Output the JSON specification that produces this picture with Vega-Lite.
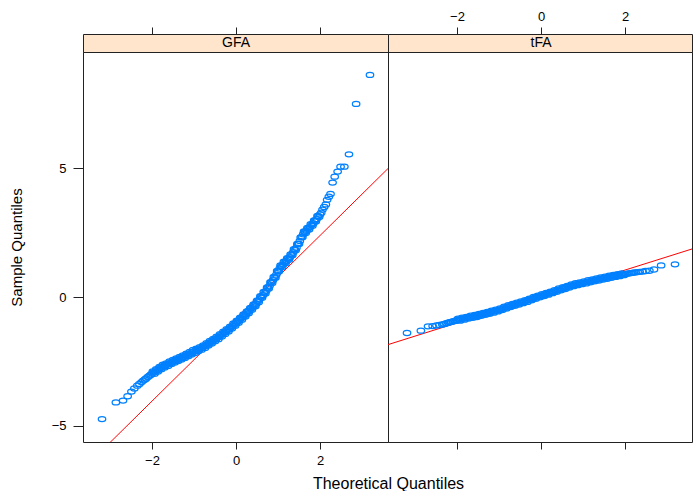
{
 "$schema": "https://vega.github.io/schema/vega-lite/v6.json",
 "autosize": "none",
 "padding": {"left": 83, "top": 34, "right": 610, "bottom": 457},
 "bounds": "flush",
 "spacing": 0,
 "columns": 2,
 "config": {
  "font": "Liberation Sans",
  "view": {"stroke": "#222", "strokeWidth": 1},
  "axis": {"domain": false, "grid": false, "tickColor": "#222", "labelColor": "#000", "titleColor": "#000", "labelFont": "Liberation Sans", "titleFont": "Liberation Sans", "titleFontWeight": "normal", "labelFontSize": 13}
 },
 "datasets": {
  "GFA": [
   {"x":-3.19,"y":-4.75},{"x":-2.86,"y":-4.10},{"x":-2.69,"y":-4.03},{"x":-2.58,"y":-3.86},{"x":-2.49,"y":-3.68},{"x":-2.42,"y":-3.56},{"x":-2.35,"y":-3.45},{"x":-2.30,"y":-3.38},{"x":-2.25,"y":-3.31},{"x":-2.21,"y":-3.25},{"x":-2.17,"y":-3.21},{"x":-2.14,"y":-3.17},{"x":-2.10,"y":-3.11},{"x":-2.06,"y":-3.06},{"x":-2.03,"y":-3.02},{"x":-2.00,"y":-2.98},
   {"x":-1.96,"y":-2.93},{"x":-1.92,"y":-2.91},{"x":-1.88,"y":-2.84},{"x":-1.84,"y":-2.82},{"x":-1.80,"y":-2.75},{"x":-1.76,"y":-2.73},{"x":-1.72,"y":-2.67},{"x":-1.68,"y":-2.66},{"x":-1.64,"y":-2.63},{"x":-1.60,"y":-2.58},
   {"x":-1.56,"y":-2.57},{"x":-1.52,"y":-2.52},{"x":-1.48,"y":-2.51},{"x":-1.44,"y":-2.46},{"x":-1.40,"y":-2.45},{"x":-1.36,"y":-2.40},{"x":-1.32,"y":-2.39},{"x":-1.28,"y":-2.34},{"x":-1.24,"y":-2.33},{"x":-1.20,"y":-2.27},{"x":-1.16,"y":-2.26},{"x":-1.12,"y":-2.21},{"x":-1.08,"y":-2.20},{"x":-1.04,"y":-2.14},{"x":-1.00,"y":-2.12},
   {"x":-0.96,"y":-2.10},{"x":-0.92,"y":-2.05},{"x":-0.88,"y":-2.04},{"x":-0.84,"y":-1.99},{"x":-0.80,"y":-1.98},{"x":-0.76,"y":-1.92},{"x":-0.72,"y":-1.90},{"x":-0.68,"y":-1.83},{"x":-0.64,"y":-1.81},{"x":-0.60,"y":-1.75},{"x":-0.56,"y":-1.73},{"x":-0.52,"y":-1.66},{"x":-0.48,"y":-1.64},
   {"x":-0.44,"y":-1.58},{"x":-0.40,"y":-1.55},{"x":-0.36,"y":-1.48},{"x":-0.32,"y":-1.45},{"x":-0.28,"y":-1.38},{"x":-0.24,"y":-1.35},{"x":-0.20,"y":-1.28},{"x":-0.16,"y":-1.25},{"x":-0.12,"y":-1.18},{"x":-0.08,"y":-1.14},{"x":-0.04,"y":-1.06},{"x":0.00,"y":-1.03},
   {"x":0.04,"y":-0.95},{"x":0.08,"y":-0.91},{"x":0.12,"y":-0.83},{"x":0.16,"y":-0.79},{"x":0.20,"y":-0.71},{"x":0.24,"y":-0.67},{"x":0.28,"y":-0.58},{"x":0.32,"y":-0.53},{"x":0.36,"y":-0.45},{"x":0.40,"y":-0.40},{"x":0.44,"y":-0.32},
   {"x":0.48,"y":-0.26},{"x":0.52,"y":-0.16},{"x":0.56,"y":-0.09},{"x":0.60,"y":0.01},{"x":0.64,"y":0.07},{"x":0.68,"y":0.18},{"x":0.72,"y":0.24},{"x":0.76,"y":0.36},{"x":0.80,"y":0.44},{"x":0.84,"y":0.57},{"x":0.88,"y":0.65},{"x":0.92,"y":0.77},
   {"x":0.96,"y":0.87},{"x":1.00,"y":1.01},{"x":1.04,"y":1.11},{"x":1.08,"y":1.21},{"x":1.12,"y":1.26},{"x":1.16,"y":1.35},{"x":1.20,"y":1.40},{"x":1.24,"y":1.49},{"x":1.28,"y":1.54},
   {"x":1.32,"y":1.65},{"x":1.36,"y":1.73},{"x":1.40,"y":1.85},{"x":1.44,"y":1.92},{"x":1.48,"y":2.07},{"x":1.52,"y":2.18},{"x":1.56,"y":2.33},{"x":1.60,"y":2.44},
   {"x":1.64,"y":2.53},{"x":1.68,"y":2.58},{"x":1.72,"y":2.67},{"x":1.76,"y":2.72},{"x":1.80,"y":2.81},{"x":1.84,"y":2.86},{"x":1.88,"y":2.97},{"x":1.92,"y":3.03},{"x":1.96,"y":3.14},{"x":2.00,"y":3.21},
   {"x":2.03,"y":3.28},{"x":2.06,"y":3.40},{"x":2.10,"y":3.50},{"x":2.14,"y":3.60},{"x":2.17,"y":3.78},{"x":2.21,"y":3.90},{"x":2.25,"y":4.01},{"x":2.30,"y":4.45},{"x":2.35,"y":4.68},{"x":2.42,"y":4.88},{"x":2.49,"y":5.07},{"x":2.58,"y":5.07},{"x":2.69,"y":5.55},{"x":2.86,"y":7.51},{"x":3.19,"y":8.64},
   {"x":-1.98,"y":-2.89},{"x":-1.94,"y":-2.99},{"x":-1.90,"y":-2.81},{"x":-1.86,"y":-2.90},{"x":-1.82,"y":-2.72},{"x":-1.78,"y":-2.81},{"x":-1.74,"y":-2.63},{"x":-1.70,"y":-2.74},{"x":-1.66,"y":-2.58},{"x":-1.62,"y":-2.68},
   {"x":-1.58,"y":-2.51},{"x":-1.54,"y":-2.61},{"x":-1.50,"y":-2.45},{"x":-1.46,"y":-2.55},{"x":-1.42,"y":-2.39},{"x":-1.38,"y":-2.49},{"x":-1.34,"y":-2.33},{"x":-1.30,"y":-2.43},{"x":-1.26,"y":-2.27},{"x":-1.22,"y":-2.37},
   {"x":-1.18,"y":-2.20},{"x":-1.14,"y":-2.30},{"x":-1.10,"y":-2.14},{"x":-1.06,"y":-2.24},{"x":-1.02,"y":-2.06},{"x":-0.98,"y":-2.18},{"x":-0.94,"y":-2.01},{"x":-0.90,"y":-2.11},{"x":-0.86,"y":-1.95},{"x":-0.82,"y":-2.05},
   {"x":-0.78,"y":-1.88},{"x":-0.74,"y":-1.98},{"x":-0.70,"y":-1.80},{"x":-0.66,"y":-1.89},{"x":-0.62,"y":-1.71},{"x":-0.58,"y":-1.81},{"x":-0.54,"y":-1.63},{"x":-0.50,"y":-1.72},{"x":-0.46,"y":-1.54},{"x":-0.42,"y":-1.64},
   {"x":-0.38,"y":-1.45},{"x":-0.34,"y":-1.54},{"x":-0.30,"y":-1.35},{"x":-0.26,"y":-1.44},{"x":-0.22,"y":-1.25},{"x":-0.18,"y":-1.34},{"x":-0.14,"y":-1.15},{"x":-0.10,"y":-1.23},{"x":-0.06,"y":-1.03},{"x":-0.02,"y":-1.12},
   {"x":0.02,"y":-0.92},{"x":0.06,"y":-1.00},{"x":0.10,"y":-0.80},{"x":0.14,"y":-0.88},{"x":0.18,"y":-0.68},{"x":0.22,"y":-0.76},{"x":0.26,"y":-0.56},{"x":0.30,"y":-0.63},{"x":0.34,"y":-0.42},{"x":0.38,"y":-0.50},
   {"x":0.42,"y":-0.29},{"x":0.46,"y":-0.36},{"x":0.50,"y":-0.14},{"x":0.54,"y":-0.20},{"x":0.58,"y":0.03},{"x":0.62,"y":-0.03},{"x":0.66,"y":0.20},{"x":0.70,"y":0.14},{"x":0.74,"y":0.37},{"x":0.78,"y":0.33},
   {"x":0.82,"y":0.58},{"x":0.86,"y":0.54},{"x":0.90,"y":0.78},{"x":0.94,"y":0.75},{"x":0.98,"y":1.01},{"x":1.02,"y":0.99},{"x":1.06,"y":1.23},{"x":1.10,"y":1.17},{"x":1.14,"y":1.37},{"x":1.18,"y":1.31},
   {"x":1.22,"y":1.51},{"x":1.26,"y":1.45},{"x":1.30,"y":1.66},{"x":1.34,"y":1.62},{"x":1.38,"y":1.86},{"x":1.42,"y":1.82},{"x":1.46,"y":2.06},{"x":1.50,"y":2.06},{"x":1.54,"y":2.32},{"x":1.58,"y":2.32},
   {"x":1.62,"y":2.55},{"x":1.66,"y":2.49},{"x":1.70,"y":2.69},{"x":1.74,"y":2.63},{"x":1.78,"y":2.83},{"x":1.82,"y":2.77},{"x":1.86,"y":2.98},{"x":1.90,"y":2.94},{"x":1.94,"y":3.15},{"x":1.98,"y":3.11}
  ],
  "tFA": [
   {"x":-3.19,"y":-1.40},{"x":-2.86,"y":-1.31},{"x":-2.69,"y":-1.14},{"x":-2.58,"y":-1.13},{"x":-2.49,"y":-1.11},{"x":-2.42,"y":-1.09},{"x":-2.35,"y":-1.07},{"x":-2.30,"y":-1.05},{"x":-2.25,"y":-1.02},{"x":-2.21,"y":-1.00},{"x":-2.17,"y":-0.98},{"x":-2.14,"y":-0.97},{"x":-2.10,"y":-0.95},{"x":-2.06,"y":-0.93},{"x":-2.03,"y":-0.92},{"x":-2.00,"y":-0.90},
   {"x":-1.95,"y":-0.88},{"x":-1.90,"y":-0.86},{"x":-1.85,"y":-0.84},{"x":-1.80,"y":-0.83},{"x":-1.75,"y":-0.80},{"x":-1.70,"y":-0.79},{"x":-1.65,"y":-0.77},{"x":-1.60,"y":-0.76},{"x":-1.55,"y":-0.74},{"x":-1.50,"y":-0.72},{"x":-1.45,"y":-0.70},{"x":-1.40,"y":-0.67},{"x":-1.35,"y":-0.66},{"x":-1.30,"y":-0.63},{"x":-1.25,"y":-0.62},{"x":-1.20,"y":-0.59},{"x":-1.15,"y":-0.57},{"x":-1.10,"y":-0.55},{"x":-1.05,"y":-0.53},{"x":-1.00,"y":-0.50},
   {"x":-0.95,"y":-0.48},{"x":-0.90,"y":-0.44},{"x":-0.85,"y":-0.42},{"x":-0.80,"y":-0.38},{"x":-0.75,"y":-0.36},{"x":-0.70,"y":-0.33},{"x":-0.65,"y":-0.31},{"x":-0.60,"y":-0.28},{"x":-0.55,"y":-0.26},{"x":-0.50,"y":-0.23},{"x":-0.45,"y":-0.21},{"x":-0.40,"y":-0.18},{"x":-0.35,"y":-0.15},{"x":-0.30,"y":-0.13},{"x":-0.25,"y":-0.09},{"x":-0.20,"y":-0.07},{"x":-0.15,"y":-0.03},{"x":-0.10,"y":-0.01},{"x":-0.05,"y":0.02},
   {"x":0.00,"y":0.05},{"x":0.05,"y":0.07},{"x":0.10,"y":0.10},{"x":0.15,"y":0.12},{"x":0.20,"y":0.15},{"x":0.25,"y":0.18},{"x":0.30,"y":0.21},{"x":0.35,"y":0.23},{"x":0.40,"y":0.27},{"x":0.45,"y":0.29},{"x":0.50,"y":0.32},{"x":0.55,"y":0.35},{"x":0.60,"y":0.37},{"x":0.65,"y":0.40},{"x":0.70,"y":0.43},{"x":0.75,"y":0.45},{"x":0.80,"y":0.48},{"x":0.85,"y":0.50},{"x":0.90,"y":0.51},{"x":0.95,"y":0.54},
   {"x":1.00,"y":0.55},{"x":1.05,"y":0.57},{"x":1.10,"y":0.59},{"x":1.15,"y":0.61},{"x":1.20,"y":0.62},{"x":1.25,"y":0.65},{"x":1.30,"y":0.66},{"x":1.35,"y":0.68},{"x":1.40,"y":0.70},{"x":1.45,"y":0.72},{"x":1.50,"y":0.73},{"x":1.55,"y":0.75},{"x":1.60,"y":0.77},{"x":1.65,"y":0.79},{"x":1.70,"y":0.81},{"x":1.75,"y":0.82},{"x":1.80,"y":0.84},{"x":1.85,"y":0.85},{"x":1.90,"y":0.87},{"x":1.95,"y":0.88},
   {"x":2.00,"y":0.89},{"x":2.03,"y":0.90},{"x":2.06,"y":0.91},{"x":2.10,"y":0.92},{"x":2.14,"y":0.93},{"x":2.17,"y":0.94},{"x":2.21,"y":0.95},{"x":2.25,"y":0.96},{"x":2.30,"y":0.97},{"x":2.35,"y":0.98},{"x":2.42,"y":0.99},{"x":2.49,"y":1.01},{"x":2.58,"y":1.02},{"x":2.69,"y":1.07},{"x":2.86,"y":1.23},{"x":3.19,"y":1.27},
   {"x":-1.975,"y":-0.84},{"x":-1.925,"y":-0.92},{"x":-1.875,"y":-0.80},{"x":-1.825,"y":-0.88},{"x":-1.775,"y":-0.77},{"x":-1.725,"y":-0.84},{"x":-1.675,"y":-0.73},{"x":-1.625,"y":-0.81},{"x":-1.575,"y":-0.70},{"x":-1.525,"y":-0.78},
   {"x":-1.475,"y":-0.66},{"x":-1.425,"y":-0.73},{"x":-1.375,"y":-0.62},{"x":-1.325,"y":-0.69},{"x":-1.275,"y":-0.58},{"x":-1.225,"y":-0.65},{"x":-1.175,"y":-0.53},{"x":-1.125,"y":-0.61},{"x":-1.075,"y":-0.49},{"x":-1.025,"y":-0.56},
   {"x":-0.975,"y":-0.44},{"x":-0.925,"y":-0.51},{"x":-0.875,"y":-0.38},{"x":-0.825,"y":-0.45},{"x":-0.775,"y":-0.32},{"x":-0.725,"y":-0.39},{"x":-0.675,"y":-0.27},{"x":-0.625,"y":-0.34},{"x":-0.575,"y":-0.22},{"x":-0.525,"y":-0.29},
   {"x":-0.475,"y":-0.17},{"x":-0.425,"y":-0.24},{"x":-0.375,"y":-0.12},{"x":-0.325,"y":-0.19},{"x":-0.275,"y":-0.06},{"x":-0.225,"y":-0.13},{"x":-0.175,"y":0.00},{"x":-0.125,"y":-0.07},{"x":-0.075,"y":0.05},{"x":-0.025,"y":-0.01},
   {"x":0.025,"y":0.11},{"x":0.075,"y":0.04},{"x":0.125,"y":0.16},{"x":0.175,"y":0.09},{"x":0.225,"y":0.21},{"x":0.275,"y":0.15},{"x":0.325,"y":0.27},{"x":0.375,"y":0.20},{"x":0.425,"y":0.33},{"x":0.475,"y":0.26},
   {"x":0.525,"y":0.38},{"x":0.575,"y":0.31},{"x":0.625,"y":0.43},{"x":0.675,"y":0.37},{"x":0.725,"y":0.49},{"x":0.775,"y":0.42},{"x":0.825,"y":0.54},{"x":0.875,"y":0.46},{"x":0.925,"y":0.57},{"x":0.975,"y":0.50},
   {"x":1.025,"y":0.61},{"x":1.075,"y":0.53},{"x":1.125,"y":0.65},{"x":1.175,"y":0.57},{"x":1.225,"y":0.68},{"x":1.275,"y":0.61},{"x":1.325,"y":0.72},{"x":1.375,"y":0.64},{"x":1.425,"y":0.76},{"x":1.475,"y":0.68},
   {"x":1.525,"y":0.79},{"x":1.575,"y":0.71},{"x":1.625,"y":0.83},{"x":1.675,"y":0.75},{"x":1.725,"y":0.86},{"x":1.775,"y":0.78},{"x":1.825,"y":0.89},{"x":1.875,"y":0.81},{"x":1.925,"y":0.92},{"x":1.975,"y":0.85}
  ],
  "lineGFA": [{"x":-3.643,"y":-6.695},{"x":3.619,"y":4.997}],
  "linetFA": [{"x":-3.643,"y":-1.852},{"x":3.595,"y":1.868}],
  "stripGFA": [{"panel":"GFA"}],
  "striptFA": [{"panel":"tFA"}]
 },
 "concat": [
  {
   "width": 305, "height": 18,
   "view": {"fill": "#ffe5cc", "stroke": "#222"},
   "data": {"name": "stripGFA"},
   "mark": {"type": "text", "fontSize": 14, "color": "#000", "font": "Liberation Sans"},
   "encoding": {
    "text": {"field": "panel"},
    "x": {"datum": 0, "type": "quantitative", "scale": {"domain": [-3.643, 3.619], "nice": false, "zero": false}, "axis": {"orient": "top", "values": [-2, 0, 2], "labels": false, "tickSize": 7, "title": null}}
   }
  },
  {
   "width": 304, "height": 18,
   "view": {"fill": "#ffe5cc", "stroke": "#222"},
   "data": {"name": "striptFA"},
   "mark": {"type": "text", "fontSize": 14, "color": "#000", "font": "Liberation Sans"},
   "encoding": {
    "text": {"field": "panel"},
    "x": {"datum": 0, "type": "quantitative", "scale": {"domain": [-3.643, 3.595], "nice": false, "zero": false}, "axis": {"orient": "top", "values": [-2, 0, 2], "tickSize": 7, "labelPadding": 4, "title": null}}
   }
  },
  {
   "width": 305, "height": 390,
   "layer": [
    {
     "data": {"name": "lineGFA"},
     "mark": {"type": "line", "color": "#ff0000", "strokeWidth": 1, "clip": true},
     "encoding": {
      "x": {"field": "x", "type": "quantitative", "scale": {"domain": [-3.643, 3.619], "nice": false, "zero": false}, "axis": {"orient": "bottom", "values": [-2, 0, 2], "tickSize": 7, "labelPadding": 5, "title": "Theoretical Quantiles", "titleFontSize": 16, "titleX": 305, "titleY": 41, "titleBaseline": "middle", "titleAlign": "center"}},
      "y": {"field": "y", "type": "quantitative", "scale": {"domain": [-5.64, 9.53], "nice": false, "zero": false}, "axis": {"orient": "left", "values": [-5, 0, 5], "tickSize": 10, "labelPadding": 7, "title": "Sample Quantiles", "titleFontSize": 15, "titleX": -67, "titleBaseline": "middle", "titleAlign": "center"}}
     }
    },
    {
     "data": {"name": "GFA"},
     "mark": {"type": "point", "shape": "M-1,0A1,0.68,0,1,1,1,0A1,0.68,0,1,1,-1,0Z", "size": 56, "filled": false, "stroke": "#0080ff", "strokeWidth": 1.25, "opacity": 1, "clip": true},
     "encoding": {
      "x": {"field": "x", "type": "quantitative"},
      "y": {"field": "y", "type": "quantitative"}
     }
    }
   ]
  },
  {
   "width": 304, "height": 390,
   "layer": [
    {
     "data": {"name": "linetFA"},
     "mark": {"type": "line", "color": "#ff0000", "strokeWidth": 1, "clip": true},
     "encoding": {
      "x": {"field": "x", "type": "quantitative", "scale": {"domain": [-3.643, 3.595], "nice": false, "zero": false}, "axis": {"orient": "bottom", "values": [-2, 0, 2], "tickSize": 7, "labels": false, "title": null}},
      "y": {"field": "y", "type": "quantitative", "scale": {"domain": [-5.64, 9.53], "nice": false, "zero": false}, "axis": null}
     }
    },
    {
     "data": {"name": "tFA"},
     "mark": {"type": "point", "shape": "M-1,0A1,0.68,0,1,1,1,0A1,0.68,0,1,1,-1,0Z", "size": 56, "filled": false, "stroke": "#0080ff", "strokeWidth": 1.25, "opacity": 1, "clip": true},
     "encoding": {
      "x": {"field": "x", "type": "quantitative"},
      "y": {"field": "y", "type": "quantitative"}
     }
    }
   ]
  }
 ],
 "resolve": {"scale": {"x": "independent", "y": "independent"}}
}
